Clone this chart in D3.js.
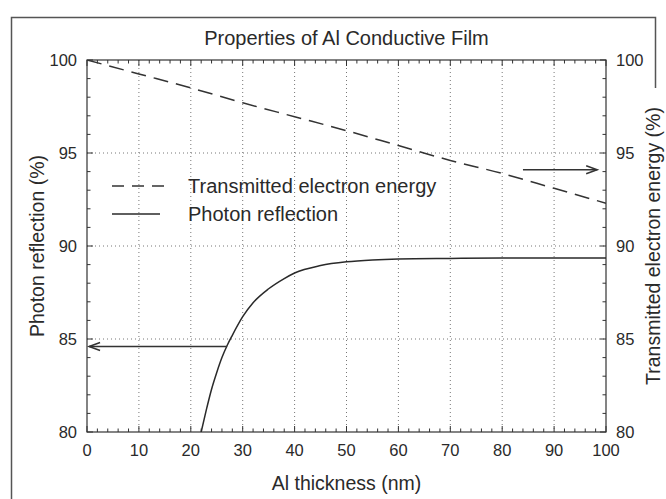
<!DOCTYPE html>
<html><head><meta charset="utf-8">
<script src="https://cdn.jsdelivr.net/npm/d3@7"></script>
<style>body{margin:0;background:#fff}svg{display:block}</style></head>
<body>
<svg id="c" width="666" height="499"></svg>
<script>
// ---- data ----
const title = "Properties of Al Conductive Film";
const xLabel = "Al thickness (nm)";
const yLabelLeft = "Photon reflection (%)";
const yLabelRight = "Transmitted electron energy (%)";
const seriesNames = ["Transmitted electron energy", "Photon reflection"];

const transThickness = [0, 10, 20, 30, 40, 50, 60, 70, 80, 90, 100];
const transmitted    = [100, 99.25, 98.5, 97.7, 96.95, 96.2, 95.4, 94.6, 93.9, 93.1, 92.3];

const reflThickness = [22, 23, 24, 25, 26, 27, 28, 30, 32, 35, 38, 40, 45, 50, 55, 60, 70, 80, 90, 100];
const reflection    = [80, 81.2, 82.3, 83.2, 84.0, 84.65, 85.2, 86.2, 86.95, 87.7, 88.25, 88.55, 88.95, 89.15, 89.25, 89.3, 89.33, 89.35, 89.35, 89.35];

const xTicks = [0, 10, 20, 30, 40, 50, 60, 70, 80, 90, 100];
const yTicks = [80, 85, 90, 95, 100];
const xMinor = d3.range(0, 101, 2);
const yMinor = d3.range(80, 101, 1);

// annotation arrows (data units): [from x, to x, y]
const arrowLeft  = [27, 0.4, 84.6];
const arrowRight = [84.0, 98.3, 94.1];

// ---- layout ----
const svg = d3.select("#c");
const L = 87, R = 606, T = 60, B = 432;
const font = "'Liberation Sans', Arial, sans-serif";
const ink = "#2a2a2a";

const x = d3.scaleLinear().domain([0, 100]).range([L, R]);
const yL = d3.scaleLinear().domain([80, 100]).range([B, T]);
const yR = d3.scaleLinear().domain([80, 100]).range([B, T]);

// outer frame
svg.append("path").attr("d", `M11.5,520 V17.5 H655.5 V88`)
  .attr("fill", "none").attr("stroke", "#555").attr("stroke-width", 1.5);

// grid
const grid = svg.append("g").attr("stroke", "#777").attr("stroke-width", 1)
  .attr("stroke-dasharray", "1,3");
xTicks.slice(1, -1).forEach(t => grid.append("line")
  .attr("x1", x(t)).attr("x2", x(t)).attr("y1", T).attr("y2", B));
yTicks.slice(1, -1).forEach(t => grid.append("line")
  .attr("x1", L).attr("x2", R).attr("y1", yL(t)).attr("y2", yL(t)));

// ticks (inward on all sides)
const tk = svg.append("g").attr("stroke", "#333").attr("stroke-width", 1);
xMinor.forEach(t => {
  const len = (t % 10 === 0) ? 6 : 3.5;
  tk.append("line").attr("x1", x(t)).attr("x2", x(t)).attr("y1", B).attr("y2", B - len);
  tk.append("line").attr("x1", x(t)).attr("x2", x(t)).attr("y1", T).attr("y2", T + len);
});
yMinor.forEach(t => {
  const len = (t % 5 === 0) ? 6 : 3.5;
  tk.append("line").attr("x1", L).attr("x2", L + len).attr("y1", yL(t)).attr("y2", yL(t));
  tk.append("line").attr("x1", R).attr("x2", R - len).attr("y1", yR(t)).attr("y2", yR(t));
});

// axes box
svg.append("rect").attr("x", L).attr("y", T).attr("width", R - L).attr("height", B - T)
  .attr("fill", "none").attr("stroke", "#333").attr("stroke-width", 1.2);

// tick labels
const tl = svg.append("g").attr("font-family", font).attr("font-size", 16.5).attr("fill", ink);
xTicks.forEach(t => tl.append("text").attr("x", x(t)).attr("y", B + 24)
  .attr("text-anchor", "middle").text(t));
yTicks.forEach(t => tl.append("text").attr("x", L - 10).attr("y", yL(t) + 6)
  .attr("text-anchor", "end").text(t));
yTicks.forEach(t => tl.append("text").attr("x", R + 10).attr("y", yR(t) + 6)
  .attr("text-anchor", "start").text(t));

// titles
svg.append("text").attr("x", (L + R) / 2).attr("y", 45).attr("text-anchor", "middle")
  .attr("font-family", font).attr("font-size", 20).attr("fill", ink).text(title);
svg.append("text").attr("x", (L + R) / 2).attr("y", 490).attr("text-anchor", "middle")
  .attr("font-family", font).attr("font-size", 19.5).attr("fill", ink).text(xLabel);
svg.append("text").attr("transform", `translate(44,${(T + B) / 2}) rotate(-90)`)
  .attr("text-anchor", "middle").attr("font-family", font).attr("font-size", 19.5)
  .attr("fill", ink).text(yLabelLeft);
svg.append("text").attr("transform", `translate(660,${(T + B) / 2}) rotate(-90)`)
  .attr("text-anchor", "middle").attr("font-family", font).attr("font-size", 19.5)
  .attr("fill", ink).text(yLabelRight);

// lines
svg.append("clipPath").attr("id", "pc").append("rect")
  .attr("x", L).attr("y", T).attr("width", R - L).attr("height", B - T);
const lineT = d3.line().x((d, i) => x(transThickness[i])).y(d => yR(d)).curve(d3.curveMonotoneX);
const lineR = d3.line().x((d, i) => x(reflThickness[i])).y(d => yL(d)).curve(d3.curveMonotoneX);
svg.append("path").attr("d", lineT(transmitted)).attr("fill", "none")
  .attr("stroke", "#333").attr("stroke-width", 1.5).attr("stroke-dasharray", "15,8")
  .attr("clip-path", "url(#pc)");
svg.append("path").attr("d", lineR(reflection)).attr("fill", "none")
  .attr("stroke", "#2a2a2a").attr("stroke-width", 1.5).attr("clip-path", "url(#pc)");

// arrows
function arrow(a, ys) {
  const x1 = x(a[0]), x2 = x(a[1]), yy = ys(a[2]);
  const dir = Math.sign(x2 - x1);
  const g = svg.append("g").attr("stroke", "#333").attr("stroke-width", 1.5).attr("fill", "none");
  g.append("line").attr("x1", x1).attr("x2", x2).attr("y1", yy).attr("y2", yy);
  g.append("path").attr("d", `M${x2 - dir * 11},${yy - 4} L${x2},${yy} L${x2 - dir * 11},${yy + 4}`);
}
arrow(arrowLeft, yL);
arrow(arrowRight, yR);

// legend
const lg = svg.append("g").attr("font-family", font).attr("font-size", 20).attr("fill", ink);
const legY = [186, 214];
svg.append("line").attr("x1", 112).attr("x2", 168).attr("y1", legY[0]).attr("y2", legY[0])
  .attr("stroke", "#333").attr("stroke-width", 1.5).attr("stroke-dasharray", "12,8");
svg.append("line").attr("x1", 112).attr("x2", 160).attr("y1", legY[1]).attr("y2", legY[1])
  .attr("stroke", "#2a2a2a").attr("stroke-width", 1.5);
seriesNames.forEach((n, i) => lg.append("text").attr("x", 188).attr("y", legY[i] + 7).text(n));
</script>
</body></html>
